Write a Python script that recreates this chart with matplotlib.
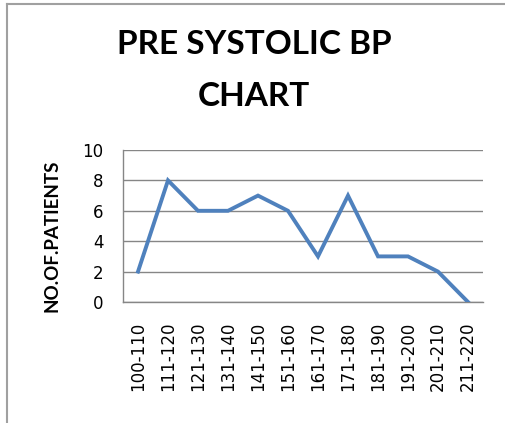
import matplotlib
matplotlib.use("Agg")
import matplotlib.pyplot as plt
from matplotlib.lines import Line2D

categorias = ["100-110", "111-120", "121-130", "131-140", "141-150", "151-160",
              "161-170", "171-180", "181-190", "191-200", "201-210", "211-220"]
pacientes = [2, 8, 6, 6, 7, 6, 3, 7, 3, 3, 2, 0]
ticks_y = [0, 2, 4, 6, 8, 10]

fig = plt.figure(figsize=(5.05, 4.23), dpi=100)
ax = fig.add_axes([123 / 505, 1 - 302 / 423, 360 / 505, 152 / 423])

x = list(range(len(categorias)))
ax.plot(x, pacientes, color="#4F81BD", linewidth=2.8, solid_joinstyle="miter", zorder=3)

ax.set_xlim(-0.5, len(categorias) - 0.5)
ax.set_ylim(0, 10)
ax.set_yticks(ticks_y)
ax.set_xticks(x)
ax.set_xticklabels(categorias, rotation=90, fontsize=12, family="DejaVu Sans")
ax.set_yticklabels([str(v) for v in ticks_y], fontsize=12, family="DejaVu Sans")
ax.tick_params(length=0)
ax.tick_params(axis="y", pad=14)
ax.tick_params(axis="x", pad=14)
ax.grid(axis="y", color="#868686", linewidth=1)
for lado in ["top", "right"]:
    ax.spines[lado].set_visible(False)
for lado in ["left", "bottom"]:
    ax.spines[lado].set_color("#868686")
    ax.spines[lado].set_linewidth(1)

fig.text(52 / 505, 1 - 236 / 423, "NO.OF.PATIENTS", rotation=90, ha="center", va="center",
         fontsize=13.5, fontweight="bold", family="Lato")

fig.text(0.503, 1 - 45 / 423, "PRE SYSTOLIC BP", ha="center", va="center",
         fontsize=24, fontweight="bold", family="Lato")
fig.text(0.503, 1 - 96 / 423, "CHART", ha="center", va="center",
         fontsize=24, fontweight="bold", family="Lato")

# marco gris del gráfico
fig.add_artist(Line2D([7 / 505, 7 / 505], [0, 1 - 4 / 423], transform=fig.transFigure,
                      color="#A0A0A0", linewidth=1.5))
fig.add_artist(Line2D([7 / 505, 1], [1 - 4 / 423, 1 - 4 / 423], transform=fig.transFigure,
                      color="#A0A0A0", linewidth=1.5))

plt.savefig("out.png", dpi=100)
plt.close()
